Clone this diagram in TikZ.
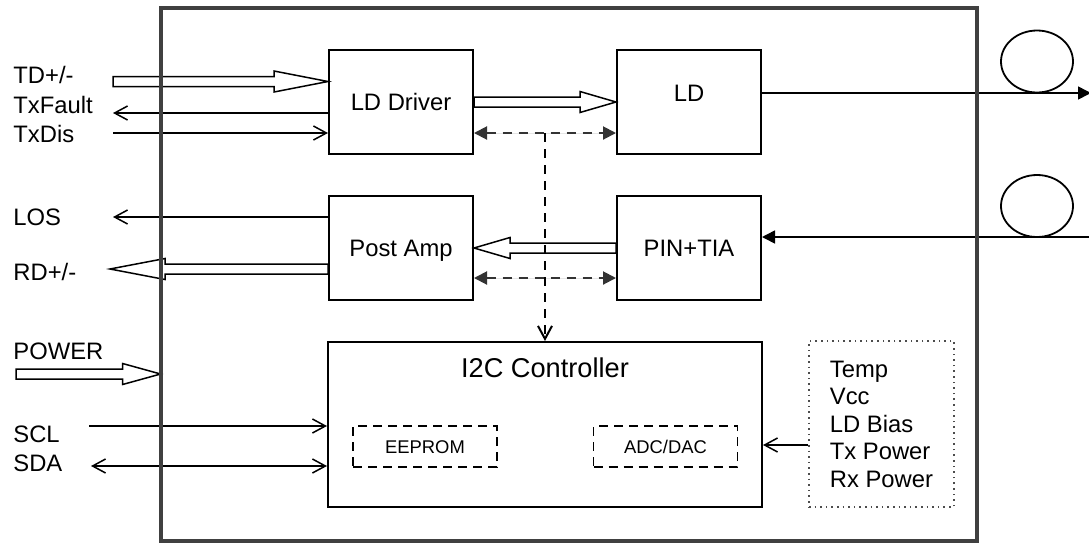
\documentclass[tikz,border=0pt]{standalone}
\usepackage{fontspec}
\setmainfont{Liberation Sans}
\usetikzlibrary{arrows.meta,calc}

\tikzset{
  blk/.style={draw, line width=1pt, minimum width=72pt, minimum height=52pt, inner sep=0pt,
    font=\fontsize{11.9}{14}\selectfont, text height=8.5pt, text depth=0pt},
  membox/.style={draw, line width=0.9pt, dash pattern=on 4.5pt off 3pt, minimum width=72pt,
    minimum height=20.5pt, inner sep=0pt, font=\fontsize{9.2}{11}\selectfont,
    text height=6.6pt, text depth=0pt},
  portlbl/.style={anchor=base west, inner sep=0pt, font=\fontsize{11.9}{14}\selectfont},
  sig/.style={line width=0.75pt, -{Straight Barb[length=6.5pt,width=7pt]}},
  sigboth/.style={line width=0.75pt, {Straight Barb[length=6.5pt,width=7pt]}-{Straight Barb[length=6.5pt,width=7pt]}},
  ctl/.style={line width=1pt, draw=black!80, dash pattern=on 4.5pt off 3.5pt},
  ctltip/.style={{Triangle[length=6.5pt,width=6.5pt]}-{Triangle[length=6.5pt,width=6.5pt]}},
  fib/.style={line width=0.8pt, -{Triangle[length=6.5pt,width=6.5pt]}},
  fatline/.style={draw, fill=white, line width=0.75pt, line join=miter},
  frameline/.style={draw=black!75, line width=2pt}
}

% hollow arrow: start, tip, signed head length
\newcommand{\fatarrow}[3]{%
  \path[fatline] let \p1=(#1), \p2=(#2) in
    ({\x1},{\y2+2.5pt}) -- ({\x2-(#3)},{\y2+2.5pt}) -- ({\x2-(#3)},{\y2+5.25pt}) -- ({\x2},{\y2})
    -- ({\x2-(#3)},{\y2-5.25pt}) -- ({\x2-(#3)},{\y2-2.5pt}) -- ({\x1},{\y2-2.5pt}) -- cycle;}

\begin{document}
\begin{tikzpicture}[x=0.5pt,y=-0.5pt]
  \useasboundingbox (0,0) rectangle (1089,548);
  \node[minimum width=408pt, minimum height=266.5pt, inner sep=0pt] (mod) at (569,274.5) {};

  % blocks
  \node[blk] (drv) at (401,102) {LD Driver};
  \node[blk, label={[font=\fontsize{11.9}{14}\selectfont, text height=8.5pt, text depth=0pt, yshift=4.5pt]center:LD}] (ld) at (689,102) {};
  \node[blk] (amp) at (401,248) {Post Amp};
  \node[blk] (tia) at (689,248) {PIN+TIA};
  \node[blk, minimum width=217pt, minimum height=82.5pt,
    label={[font=\fontsize{13.6}{16}\selectfont, anchor=base, yshift=-18pt]north:I2C Controller}] (i2c) at (545,424.5) {};
  \node[membox] (eep) at (425,446.5) {EEPROM};
  \node[membox] (adc) at (665.5,446.5) {ADC/DAC};
  \node[draw=black!70, dotted, line width=0.8pt, minimum width=72.5pt, minimum height=83pt,
    align=left, inner sep=0pt,
    font=\fontsize{11.9}{13.75}\selectfont] (mon) at (881.5,424) {Temp\\Vcc\\LD Bias\\Tx Power\\Rx Power};

  % port labels
  \node[portlbl] (tdl) at (13,83) {TD+/-};
  \node[portlbl] (txfl) at (13,113) {TxFault};
  \node[portlbl] (txdl) at (13,142) {TxDis};
  \node[portlbl] (losl) at (13,225) {LOS};
  \node[portlbl] (rdl) at (13,280) {RD+/-};
  \node[portlbl] (pwrl) at (13,359) {POWER};
  \node[portlbl] (scll) at (13,442) {SCL};
  \node[portlbl] (sdal) at (13,471) {SDA};

  % free ends
  \coordinate (td) at (113,81.5);
  \coordinate (txf) at (113,113);
  \coordinate (txd) at (113,133);
  \coordinate (los) at (113,217);
  \coordinate (rd) at (110,269);
  \coordinate (pwr) at (16,374);
  \coordinate (scl) at (89,426);
  \coordinate (sda) at (91,466);
  \coordinate (txo) at (1091,93);
  \coordinate (rxi) at (1089,237);
  \coordinate (bus1) at (545,133);
  \coordinate (bus2) at (545,278);

  % hollow data paths
  \fatarrow{td}{drv.west |- td}{27pt}
  \fatarrow{amp.west |- rd}{rd}{-27.5pt}
  \fatarrow{pwr}{mod.west |- pwr}{19pt}
  \fatarrow{drv.east}{ld.west}{18pt}
  \fatarrow{tia.west}{amp.east}{-18pt}

  % signals
  \draw[sig] (drv.west |- txf) -- (txf);
  \draw[sig] (txd) -- (drv.west |- txd);
  \draw[sig] (amp.west |- los) -- (los);
  \draw[sig] (scl) -- (i2c.west |- scl);
  \draw[sigboth] (sda) -- (i2c.west |- sda);
  \draw[sig] ($(mon.west)+(0,21)$) coordinate (mtap) -- (i2c.east |- mtap);

  % control bus
  \draw[ctl, ctltip, fill=black!80] (drv.east |- bus1) -- (ld.west |- bus1);
  \draw[ctl, ctltip, fill=black!80] (amp.east |- bus2) -- (tia.west |- bus2);
  \draw[ctl, draw=black, -{Straight Barb[length=6.5pt,width=7pt]}] (bus1) -- (i2c.north);

  % fibres
  \draw[line width=0.9pt] (1037,61.5) ellipse [x radius=18pt, y radius=15.5pt];
  \draw[line width=0.9pt] (1037,206) ellipse [x radius=18pt, y radius=15.5pt];
  \draw[fib] (ld.east |- txo) -- (txo);
  \draw[fib] (rxi) -- (tia.east |- rxi);

  \draw[frameline] (mod.north west) rectangle (mod.south east);
\end{tikzpicture}
\end{document}
